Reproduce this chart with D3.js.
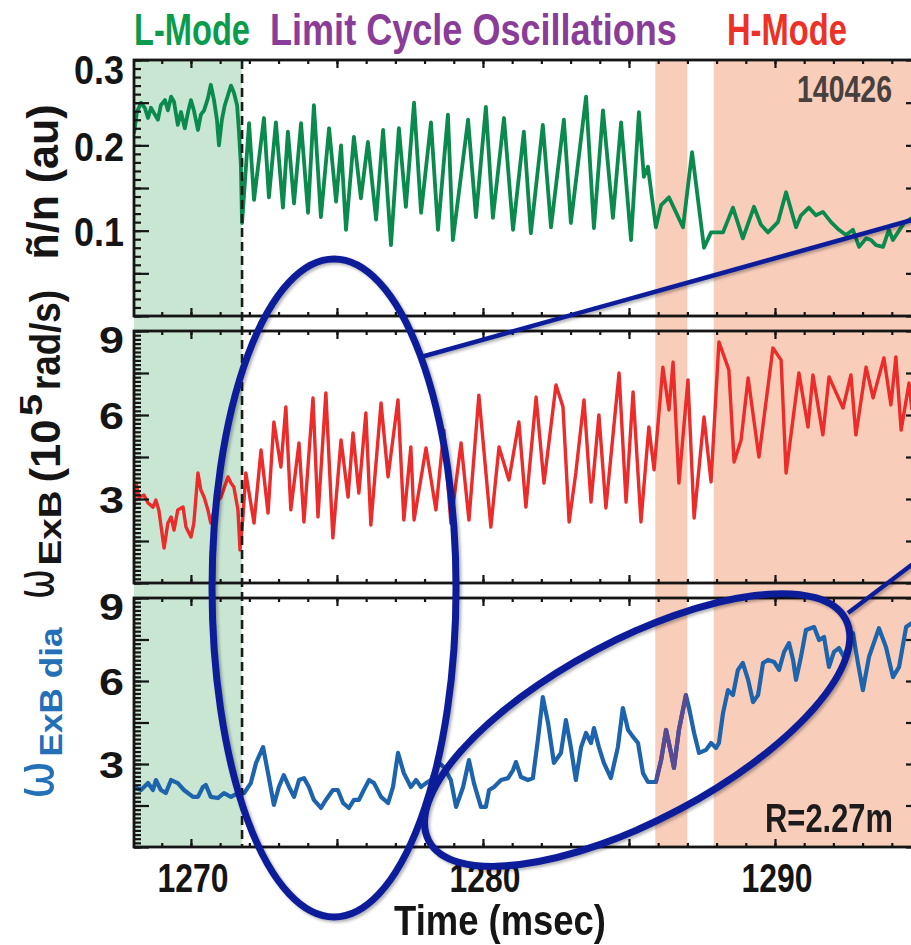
<!DOCTYPE html>
<html>
<head>
<meta charset="utf-8">
<script src="https://cdnjs.cloudflare.com/ajax/libs/d3/7.8.5/d3.min.js"></script>
<style>
  body { margin: 0; background: #fff; }
  svg { display: block; }
</style>
</head>
<body>
<svg id="chart" width="911" height="945"></svg>
<script>
// time axis (msec)
let timeTicks = [1270, 1280, 1290];
let lModeBand = [1268.05, 1271.75];
let hModeBands = [[1285.9, 1287.0], [1287.9, 1295]];

// density fluctuation n~/n (au)
let fluctTicks = [0.1, 0.2, 0.3];
let fluctT = [1268.05,1268.15,1268.29,1268.42,1268.53,1268.63,1268.73,1268.87,1268.97,1269.11,1269.21,1269.32,1269.42,1269.55,1269.66,1269.79,1269.90,1270.00,1270.10,1270.24,1270.34,1270.45,1270.58,1270.68,1270.79,1270.89,1270.96,1271.06,1271.16,1271.27,1271.37,1271.47,1271.58,1271.64,1271.71,1271.75,
  1271.99,1272.16,1272.50,1272.67,1272.91,1273.15,1273.32,1273.53,1273.77,1274.01,1274.21,1274.45,1274.73,1274.97,1275.14,1275.31,1275.58,1275.82,1276.06,1276.34,1276.58,1276.85,1277.12,1277.36,1277.64,1277.88,1278.22,1278.46,1278.80,1278.97,1279.49,1279.76,1280.10,1280.34,1280.72,1281.03,1281.40,1281.64,1282.05,1282.33,1282.77,1283.01,1283.53,1283.80,1284.11,1284.45,1284.73,1285.07,1285.34,1285.51,1285.65,1285.92,1286.10,1286.37,1286.85,1287.16,1287.57,1287.81,1288.22,1288.56,1288.90,1289.28,1289.52,1289.76,1290.10,1290.38,1290.72,1290.89,1291.16,1291.40,1291.64,1291.92,1292.19,1292.43,1292.67,1292.88,1293.12,1293.29,1293.46,1293.70,1293.90,1294.04,1294.21,1294.42,1294.69];
let fluctV = [0.214,0.239,0.250,0.244,0.232,0.244,0.238,0.230,0.247,0.253,0.241,0.257,0.251,0.224,0.239,0.220,0.239,0.253,0.241,0.218,0.236,0.241,0.255,0.271,0.253,0.230,0.200,0.230,0.247,0.259,0.270,0.262,0.247,0.218,0.177,0.109,
  0.226,0.136,0.232,0.139,0.227,0.127,0.216,0.132,0.226,0.121,0.247,0.116,0.220,0.134,0.200,0.101,0.210,0.138,0.204,0.113,0.218,0.083,0.220,0.128,0.250,0.121,0.227,0.101,0.236,0.089,0.230,0.116,0.245,0.115,0.232,0.101,0.216,0.097,0.224,0.104,0.230,0.109,0.257,0.103,0.241,0.115,0.227,0.089,0.239,0.163,0.175,0.104,0.130,0.139,0.104,0.192,0.080,0.098,0.098,0.127,0.091,0.128,0.107,0.098,0.110,0.145,0.104,0.118,0.127,0.118,0.122,0.110,0.101,0.095,0.101,0.081,0.091,0.089,0.083,0.081,0.101,0.089,0.098,0.109,0.115];

// E x B shearing rate (10^5 rad/s)
let omegaTicks = [3, 6, 9];
let exbT = [1268.05,1268.12,1268.22,1268.39,1268.53,1268.70,1268.80,1268.90,1269.08,1269.21,1269.32,1269.42,1269.55,1269.73,1269.83,1270.00,1270.10,1270.24,1270.34,1270.45,1270.58,1270.68,1270.86,1271.03,1271.27,1271.37,1271.47,1271.61,1271.68,1271.78,1271.88,
  1272.16,1272.40,1272.64,1272.84,1273.08,1273.25,1273.42,1273.70,1273.87,1274.18,1274.35,1274.62,1274.86,1275.14,1275.38,1275.55,1275.75,1275.99,1276.16,1276.51,1276.75,1277.09,1277.29,1277.53,1277.64,1278.05,1278.39,1278.66,1278.90,1279.25,1279.52,1279.86,1280.27,1280.55,1280.89,1281.23,1281.47,1281.82,1282.09,1282.50,1282.74,1282.95,1283.18,1283.46,1283.70,1283.97,1284.21,1284.66,1284.90,1285.14,1285.41,1285.68,1285.86,1286.16,1286.37,1286.51,1286.71,1287.02,1287.23,1287.57,1287.81,1288.08,1288.42,1288.60,1288.84,1289.08,1289.45,1289.93,1290.21,1290.38,1290.82,1291.13,1291.30,1291.64,1291.85,1292.33,1292.60,1292.77,1293.12,1293.36,1293.73,1293.97,1294.14,1294.32,1294.59,1294.69];
let exbV = [2.61,3.57,3.07,3.14,2.86,2.71,2.96,2.61,1.25,2.14,2.36,1.89,2.61,2.71,2.00,1.64,2.14,3.93,3.32,3.07,2.61,2.14,2.86,3.07,3.79,3.57,3.43,2.61,1.18,2.36,3.93,
  2.14,4.75,2.50,5.75,4.14,6.29,2.61,5.00,2.18,6.61,2.36,6.79,1.61,5.11,3.07,5.36,3.21,6.07,2.07,6.43,3.79,6.54,2.25,4.86,2.25,4.82,2.61,5.46,2.14,5.00,2.25,6.71,2.00,4.86,3.68,5.75,2.71,6.64,3.57,7.07,6.29,2.18,3.93,6.54,2.89,6.00,2.68,7.50,2.89,6.82,2.18,5.57,4.04,7.71,6.18,7.89,3.57,7.25,2.32,5.93,3.61,8.61,7.61,4.32,5.11,7.32,4.50,8.39,7.96,3.93,7.50,5.57,7.43,5.29,7.36,6.25,7.43,5.29,7.71,6.61,8.04,6.36,8.07,5.46,7.14,6.18];

// diamagnetic E x B rate (10^5 rad/s)
let diaT = [1268.05,1268.29,1268.53,1268.70,1268.80,1268.97,1269.14,1269.32,1269.55,1269.76,1270.07,1270.24,1270.41,1270.51,1270.68,1270.92,1271.13,1271.37,1271.61,1271.82,1272.05,1272.23,1272.47,1272.64,1272.84,1273.01,1273.18,1273.36,1273.53,1273.70,1273.87,1274.04,1274.21,1274.45,1274.62,1274.86,1275.03,1275.21,1275.41,1275.58,1275.75,1275.92,1276.10,1276.27,1276.51,1276.75,1276.92,1277.09,1277.29,1277.53,1277.71,1277.88,1278.05,1278.22,1278.46,1278.66,1278.90,1279.08,1279.32,1279.52,1279.69,1279.93,1280.10,1280.21,1280.38,1280.62,1280.86,1281.03,1281.13,1281.30,1281.54,1281.71,1281.88,1282.05,1282.23,1282.43,1282.67,1282.84,1283.01,1283.18,1283.36,1283.53,1283.70,1283.80,1283.97,1284.14,1284.38,1284.62,1284.79,1284.97,1285.14,1285.31,1285.48,1285.65,1285.92,1286.10,1286.27,1286.44,1286.54,1286.71,1286.95,1287.05,1287.23,1287.40,1287.64,1287.81,1287.98,1288.08,1288.22,1288.39,1288.56,1288.73,1288.90,1289.08,1289.25,1289.42,1289.59,1289.76,1289.97,1290.14,1290.31,1290.48,1290.62,1290.72,1290.89,1291.06,1291.34,1291.51,1291.68,1291.85,1292.02,1292.19,1292.36,1292.67,1292.84,1293.01,1293.22,1293.56,1293.80,1294.04,1294.25,1294.49,1294.69];
let diaV = [2.17,2.06,2.31,2.06,2.42,2.06,1.95,2.42,2.31,2.06,1.81,1.81,2.17,2.24,1.81,1.77,1.95,1.81,1.95,1.95,2.31,3.04,3.61,2.67,1.52,2.17,2.60,2.17,1.81,2.42,2.49,2.17,1.70,1.41,1.70,2.06,2.06,1.59,1.41,1.70,1.70,2.06,2.42,2.31,1.81,1.59,2.17,3.40,2.67,2.17,2.42,2.17,2.31,2.42,3.07,2.89,2.42,1.45,2.17,3.14,2.31,1.45,1.45,2.06,2.17,2.42,2.49,2.78,3.07,2.53,2.42,2.49,3.87,5.42,4.48,3.04,3.40,4.59,3.61,2.42,3.61,4.12,3.76,4.30,3.61,3.04,2.49,3.61,5.02,4.23,3.98,3.76,2.67,2.35,2.35,3.14,4.23,3.40,2.86,4.23,5.49,5.06,4.12,3.40,3.51,3.76,3.58,3.76,4.84,5.67,5.49,6.40,6.65,6.04,5.24,5.49,6.65,6.76,6.69,6.40,7.05,7.37,6.76,6.04,6.87,7.84,7.95,7.48,7.59,6.51,7.05,7.19,6.87,7.73,6.65,5.67,6.87,7.91,7.23,6.14,6.51,7.95,8.10];

let svg = d3.select("#chart");
let font = "'Liberation Sans', Arial, Helvetica, sans-serif";
let ink = "#151515";

let x = d3.scaleLinear().domain([1268.05, 1295]).range([134, 921]);
let left = x.range()[0], right = x.range()[1];

let panels = [
  { id: "fluct", top: 60, bottom: 316, domain: [0, 0.3], major: 0.05, minor: 0.01, labels: fluctTicks,
    fmt: d3.format(".1f"), t: fluctT, v: fluctV, color: "#0b8a4e", width: 3.8, labelSize: 41, labelLen: 50 },
  { id: "exb", top: 331, bottom: 583, domain: [0, 9], major: 1.5, minor: 0.15, labels: omegaTicks,
    fmt: d3.format("d"), t: exbT, v: exbV, color: "#ec2b2b", width: 3.4, labelSize: 37, labelLen: 25 },
  { id: "dia", top: 598, bottom: 847, domain: [0, 9], major: 1.5, minor: 0.15, labels: omegaTicks,
    fmt: d3.format("d"), t: diaT, v: diaV, color: "#1d64ad", width: 4.2, labelSize: 37, labelLen: 25 }
];
panels.forEach(p => { p.y = d3.scaleLinear().domain(p.domain).range([p.bottom, p.top]); });

let defs = svg.append("defs");
let shadow = defs.append("filter").attr("id", "shadow")
  .attr("x", "-10%").attr("y", "-10%").attr("width", "120%").attr("height", "120%");
shadow.append("feDropShadow")
  .attr("dx", 2).attr("dy", 2).attr("stdDeviation", 1.8)
  .attr("flood-color", "#000").attr("flood-opacity", 0.3);

// text helper: squeezes/stretches the glyphs to the width
let addText = (str, tx, ty, o) => {
  let t = svg.append("text")
    .attr("font-family", o.family || font)
    .attr("font-weight", o.weight || "bold")
    .attr("font-size", o.size)
    .attr("fill", o.color || ink)
    .attr("text-anchor", o.anchor || "start")
    .text(str);
  let sx = 1;
  if (o.len) sx = o.len / t.node().getComputedTextLength();
  t.attr("transform", `translate(${tx},${ty})` + (o.rotate ? " rotate(-90)" : "") + ` scale(${sx.toFixed(4)},1)`);
  return t;
};

// shaded regimes, they run through all three panels
let shadeTop = panels[0].top, shadeBottom = panels[2].bottom;
svg.append("rect")
  .attr("x", x(lModeBand[0])).attr("y", shadeTop)
  .attr("width", x(lModeBand[1]) - x(lModeBand[0])).attr("height", shadeBottom - shadeTop)
  .attr("fill", "#c9e6d3");
svg.selectAll("rect.hmode")
  .data(hModeBands)
  .enter()
  .append("rect")
  .attr("class", "hmode")
  .attr("x", d => x(d[0])).attr("y", shadeTop)
  .attr("width", d => x(d[1]) - x(d[0])).attr("height", shadeBottom - shadeTop)
  .attr("fill", "#f8cdba");

let steps = (lo, hi, step) => d3.range(0, Math.round((hi - lo) / step) + 1).map(i => lo + i * step);
let xAll = d3.range(1269, 1296);
let xFive = xAll.filter(d => d % 5 === 0);

let noDomain = g => g.select(".domain").remove();

panels.forEach((p, i) => {
  defs.append("clipPath").attr("id", "clip-" + p.id)
    .append("rect").attr("x", left).attr("y", p.top).attr("width", right - left).attr("height", p.bottom - p.top);

  let line = d3.line().x(d => x(d[0])).y(d => p.y(d[1]));
  let pts = d3.zip(p.t, p.v);

  svg.append("path")
    .datum(pts)
    .attr("clip-path", `url(#clip-${p.id})`)
    .attr("d", line)
    .attr("fill", "none")
    .attr("stroke", p.color)
    .attr("stroke-width", p.width)
    .attr("stroke-linejoin", "round");

  // trace looks purple where it crosses the first H-mode band
  if (p.id === "dia") {
    defs.append("clipPath").attr("id", "clip-band")
      .append("rect").attr("x", x(hModeBands[0][0])).attr("y", p.top)
      .attr("width", x(hModeBands[0][1]) - x(hModeBands[0][0])).attr("height", p.bottom - p.top);
    svg.append("path")
      .datum(pts)
      .attr("clip-path", "url(#clip-band)")
      .attr("d", line)
      .attr("fill", "none")
      .attr("stroke", "#5a4a92")
      .attr("stroke-width", p.width)
      .attr("stroke-linejoin", "round");
  }

  let axes = svg.append("g").attr("class", "axes").attr("color", ink);

  // x ticks, inward on top and bottom
  axes.append("g").attr("transform", `translate(0,${p.bottom})`)
    .call(d3.axisTop(x).tickValues(xAll).tickSize(4).tickFormat("")).call(noDomain);
  axes.append("g").attr("transform", `translate(0,${p.bottom})`)
    .call(d3.axisTop(x).tickValues(xFive).tickSize(8).tickFormat("")).call(noDomain);
  axes.append("g").attr("transform", `translate(0,${p.top})`)
    .call(d3.axisBottom(x).tickValues(xAll).tickSize(4).tickFormat("")).call(noDomain);
  axes.append("g").attr("transform", `translate(0,${p.top})`)
    .call(d3.axisBottom(x).tickValues(xFive).tickSize(8).tickFormat("")).call(noDomain);

  // y ticks, inward on left and right
  let minors = steps(p.domain[0], p.domain[1], p.minor);
  let majors = steps(p.domain[0], p.domain[1], p.major);
  axes.append("g").attr("transform", `translate(${left},0)`)
    .call(d3.axisRight(p.y).tickValues(minors).tickSize(7).tickFormat("")).call(noDomain);
  axes.append("g").attr("transform", `translate(${left},0)`)
    .call(d3.axisRight(p.y).tickValues(majors).tickSize(15).tickFormat("")).call(noDomain);
  axes.append("g").attr("transform", `translate(${right},0)`)
    .call(d3.axisLeft(p.y).tickValues(majors).tickSize(15).tickFormat("")).call(noDomain);
  axes.selectAll("line").attr("stroke-width", 2.2);

  // y labels; the top one sits a little lower, inside the frame height
  p.labels.forEach(d => {
    let shift = d === p.domain[1] ? 9 : 1;
    addText(p.fmt(d), left - 10, p.y(d) + p.labelSize * 0.36 + shift,
      { size: p.labelSize, len: p.labelLen, anchor: "end" });
  });

  // panel frame
  svg.append("rect")
    .attr("x", left).attr("y", p.top)
    .attr("width", right - left).attr("height", p.bottom - p.top)
    .attr("fill", "none").attr("stroke", ink).attr("stroke-width", 2.8);
});

// time labels under the bottom panel
timeTicks.forEach(d => {
  addText(d3.format("d")(d), x(d) + 2, panels[2].bottom + 45, { size: 41, len: 71, anchor: "middle" });
});

// L-mode / LCO boundary
svg.append("line")
  .attr("x1", x(lModeBand[1])).attr("x2", x(lModeBand[1]))
  .attr("y1", shadeTop).attr("y2", shadeBottom)
  .attr("stroke", "#1a1a1a").attr("stroke-width", 2.6).attr("stroke-dasharray", "9,5");

// annotation ellipses and connector lines
let ann = svg.append("g").attr("fill", "none").attr("stroke", "#0d1d99").attr("filter", "url(#shadow)");
ann.append("ellipse")
  .attr("cx", x(1274.9)).attr("cy", 588).attr("rx", 122).attr("ry", 329)
  .attr("stroke-width", 7);
ann.append("ellipse")
  .attr("rx", 236).attr("ry", 90)
  .attr("transform", `translate(${x(1285.28)},730) rotate(-28)`)
  .attr("stroke-width", 7);
ann.append("line")
  .attr("x1", 421).attr("y1", 357).attr("x2", 930).attr("y2", 215)
  .attr("stroke-width", 4.5);
ann.append("line")
  .attr("x1", 848).attr("y1", 613).attr("x2", 930).attr("y2", 551)
  .attr("stroke-width", 4.5);

// regime headers
addText("L-Mode", 134, 45, { size: 45, len: 116, color: "#0a9b4c" });
addText("Limit Cycle Oscillations", 270, 45, { size: 45, len: 407, color: "#8a3d98" });
addText("H-Mode", 727, 45, { size: 45, len: 120, color: "#ee3126" });

addText("140426", 892, 102, { size: 37, len: 95, anchor: "end", color: "#483f3f" });
addText("R=2.27m", 893, 832, { size: 40, len: 128, anchor: "end", color: "#1c1c1c" });
addText("Time (msec)", 500, 935, { size: 42, len: 212, anchor: "middle" });

// y axis titles
addText("ñ/n (au)", 58, 182, { size: 44, len: 155, anchor: "middle", rotate: true });

addText("ω", 53, 584, { size: 54, len: 30, anchor: "middle", rotate: true, weight: "normal", family: "'DejaVu Sans', sans-serif" });
addText("ExB", 61, 528, { size: 31, len: 75, anchor: "middle", rotate: true });
addText("(10", 60, 451, { size: 42, len: 63, anchor: "middle", rotate: true });
addText("5", 42, 405, { size: 32, len: 22, anchor: "middle", rotate: true });
addText("rad/s)", 60, 340, { size: 42, len: 100, anchor: "middle", rotate: true });

addText("ω", 53, 780, { size: 54, len: 38, anchor: "middle", rotate: true, weight: "normal", family: "'DejaVu Sans', sans-serif", color: "#2470b7" });
addText("ExB dia", 62, 692, { size: 31, len: 129, anchor: "middle", rotate: true, color: "#2470b7" });
</script>
</body>
</html>
